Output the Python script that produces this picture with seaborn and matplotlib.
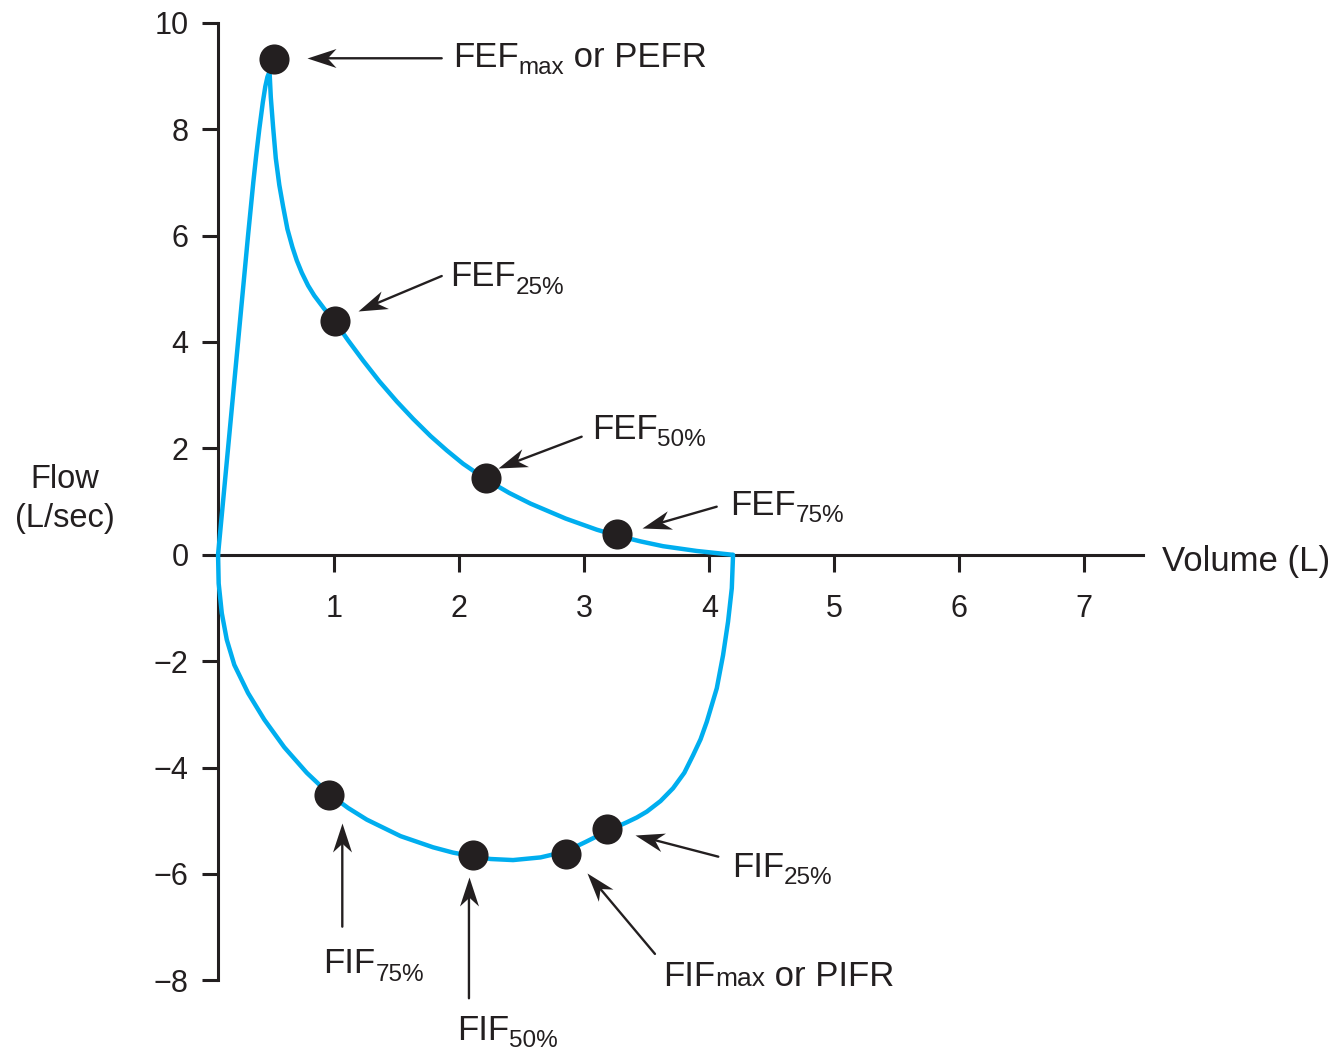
import numpy as np
import pandas as pd
import matplotlib
matplotlib.use("Agg")
import matplotlib.pyplot as plt
import seaborn as sns
from matplotlib.transforms import offset_copy
from matplotlib.path import Path

# ---------------- data ----------------
exp_volume = [0.07, 0.11, 0.15, 0.19, 0.23, 0.27, 0.31, 0.352, 0.375, 0.40, 0.428,
              0.448, 0.465, 0.482, 0.492, 0.51, 0.532, 0.56, 0.59, 0.625, 0.665,
              0.70, 0.74, 0.79, 0.84, 0.92, 1.00, 1.11, 1.23, 1.36, 1.50, 1.63,
              1.77, 1.90, 2.03, 2.21, 2.40, 2.57, 2.71, 2.85, 3.10, 3.26, 3.45,
              3.63, 3.90, 4.18]
exp_flow = [0.00, 1.00, 2.00, 3.00, 4.00, 5.00, 6.00, 7.00, 7.50, 8.00, 8.50,
            8.80, 8.98, 9.08, 8.60, 8.05, 7.45, 6.95, 6.55, 6.12, 5.78,
            5.53, 5.30, 5.06, 4.87, 4.62, 4.40, 4.03, 3.65, 3.26, 2.88, 2.555,
            2.23, 1.96, 1.71, 1.42, 1.16, 0.96, 0.82, 0.68, 0.47, 0.36, 0.25,
            0.16, 0.07, 0.00]

insp_volume = [4.19, 4.18, 4.15, 4.11, 4.06, 3.98, 3.93, 3.87, 3.80, 3.71, 3.61,
               3.50, 3.42, 3.34, 3.18, 3.01, 2.85, 2.65, 2.43, 2.25, 2.11, 1.95,
               1.79, 1.53, 1.26, 1.11, 0.96, 0.78, 0.60, 0.44, 0.31, 0.20, 0.14,
               0.10, 0.075, 0.07]
insp_flow = [0.00, -0.63, -1.26, -1.89, -2.51, -3.14, -3.47, -3.77, -4.10, -4.39, -4.63,
             -4.83, -4.94, -5.03, -5.20, -5.40, -5.58, -5.69, -5.74, -5.72, -5.67, -5.60,
             -5.50, -5.29, -4.98, -4.76, -4.50, -4.10, -3.62, -3.10, -2.60, -2.07, -1.60,
             -1.10, -0.54, 0.00]

label_main = ["FEF", "FEF", "FEF", "FEF", "FIF", "FIF", "FIF", "FIF"]
label_sub = ["max", "25%", "50%", "75%", "75%", "50%", "max", "25%"]
label_rest = [" or PEFR", "", "", "", "", "", " or PIFR", ""]
point_volume = [0.52, 1.005, 2.21, 3.26, 0.96, 2.11, 2.85, 3.18]
point_flow = [9.32, 4.40, 1.44, 0.38, -4.52, -5.65, -5.63, -5.15]

x_ticks = [1, 2, 3, 4, 5, 6, 7]
y_ticks = [-8, -6, -4, -2, 0, 2, 4, 6, 8, 10]
x_label = "Volume (L)"
y_label = ["Flow", "(L/sec)"]

# ---------------- style ----------------
BLUE = "#00aeef"
DARK = "#231f20"
DPI = 100
PX = 72.0 / DPI

sns.set_theme(style="ticks")
plt.rcParams["font.family"] = ["Liberation Sans", "DejaVu Sans"]

W, H = 1333, 1053
fig = plt.figure(figsize=(W / DPI, H / DPI), dpi=DPI)
fig.patch.set_facecolor("white")
ax = fig.add_axes([209.3 / W, 1 - 980.3 / H, 937.5 / W, 957.6 / H])
ax.set_facecolor("white")

exp_df = pd.DataFrame({"volume": exp_volume, "flow": exp_flow})
insp_df = pd.DataFrame({"volume": insp_volume, "flow": insp_flow})
for df in (exp_df, insp_df):
    sns.lineplot(data=df, x="volume", y="flow", sort=False, estimator=None,
                 color=BLUE, linewidth=3.2, ax=ax, zorder=3,
                 solid_joinstyle="round", solid_capstyle="round")

pts = pd.DataFrame({"volume": point_volume, "flow": point_flow})
sns.scatterplot(data=pts, x="volume", y="flow", s=470, color=DARK,
                linewidth=0, ax=ax, zorder=4, clip_on=False)

ax.set_xlim(0, 7.5)
ax.set_ylim(-8, 10)
ax.set_xlabel("")
ax.set_ylabel("")
ax.set_xticks(x_ticks)
ax.set_yticks(y_ticks)
ax.set_xticklabels([str(t) for t in x_ticks])
ax.set_yticklabels([str(t).replace("-", "\u2212") for t in y_ticks])

for s in ("top", "right"):
    ax.spines[s].set_visible(False)
ax.spines["left"].set_position(("data", 0.067))
ax.spines["bottom"].set_position(("data", 0))
ax.spines["left"].set_bounds(-8, 10)
ax.spines["bottom"].set_bounds(0.067, 7.47)
for s in ("left", "bottom"):
    ax.spines[s].set_linewidth(2.2)
    ax.spines[s].set_color(DARK)
    ax.spines[s].set_zorder(2.5)

ax.tick_params(axis="x", direction="out", length=12, width=2.2, pad=16,
               labelsize=22, color=DARK, labelcolor=DARK, bottom=True)
ax.tick_params(axis="y", direction="out", length=11.5, width=2.2, pad=9.5,
               labelsize=22, color=DARK, labelcolor=DARK, left=True)


def off(dx, dy):
    """offset in reference pixels (x right, y down)"""
    return offset_copy(ax.transData, fig=fig, x=dx * PX, y=-dy * PX, units="points")


# (tail, tip, text) offsets in pixels relative to each dot
layout = [
    ((167.4, -0.6), (32.4, -0.6), (178.7, 7.8)),
    ((106.8, -44.6), (23.4, -9.6), (115.1, -34.6)),
    ((96.1, -41.4), (12.7, -9.8), (106.1, -39.1)),
    ((99.9, -27.8), (24.9, -6.2), (113.2, -19.5)),
    ((13.0, 131.5), (13.0, 28.1), (-6.0, 178.1)),
    ((-4.1, 143.0), (-4.1, 21.4), (-16.4, 184.5)),
    ((89.4, 99.7), (21.4, 18.7), (97.7, 131.4)),
    ((111.5, 28.0), (28.2, 6.3), (124.9, 48.0)),
]

L_HEAD, W_HEAD = 29 * PX, 9.5 * PX
MAIN_FS, SUB_FS, SUB_DROP = 25, 17.5, 7.5
renderer = fig.canvas.get_renderer()

for i, (tail, tip, txt) in enumerate(layout):
    vx, vf = point_volume[i], point_flow[i]
    ax.annotate("", xy=(vx, vf), xycoords=off(*tip), xytext=(vx, vf),
                textcoords=off(*tail),
                arrowprops=dict(arrowstyle="-", lw=1.7, color=DARK,
                                shrinkA=0, shrinkB=L_HEAD * 0.6))
    ddx = tip[0] - tail[0]
    ddy = -(tip[1] - tail[1])
    th = np.arctan2(ddy, ddx)
    c, s_ = np.cos(th), np.sin(th)
    base = np.array([[0, 0], [-L_HEAD, W_HEAD], [-0.7 * L_HEAD, 0],
                     [-L_HEAD, -W_HEAD], [0, 0]])
    verts = base @ np.array([[c, -s_], [s_, c]]).T
    rescale = np.abs(verts).max()
    path = Path(verts, [Path.MOVETO, Path.LINETO, Path.LINETO, Path.LINETO,
                        Path.CLOSEPOLY])
    ax.plot([vx], [vf], marker=path, markersize=2 * rescale, color=DARK,
            markeredgewidth=0, linestyle="none", transform=off(*tip),
            clip_on=False, zorder=5)

    # label: main text, subscript (FIFmax keeps "max" on the baseline), rest
    if label_main[i] == "FIF" and label_sub[i] == "max":
        sub_fs, drop = 19, 0.0
    else:
        sub_fs, drop = SUB_FS, SUB_DROP
    parts = [(label_main[i], MAIN_FS, 0.0), (label_sub[i], sub_fs, drop),
             (label_rest[i], MAIN_FS, 0.0)]
    x0 = txt[0]
    for ptxt, fs, dr in parts:
        if not ptxt:
            continue
        t = ax.text(vx, vf, ptxt, transform=off(x0, txt[1] + dr), ha="left",
                    va="baseline", fontsize=fs, color=DARK)
        x0 += t.get_window_extent(renderer).width

fig.text(1162 / W, 1 - 571.5 / H, x_label, ha="left", va="baseline",
         fontsize=25, color=DARK)
fig.text(65 / W, 1 - 488.3 / H, y_label[0], ha="center", va="baseline",
         fontsize=23.5, color=DARK)
fig.text(65 / W, 1 - 526.5 / H, y_label[1], ha="center", va="baseline",
         fontsize=23.5, color=DARK)

fig.savefig("out.png", dpi=DPI, facecolor="white")
